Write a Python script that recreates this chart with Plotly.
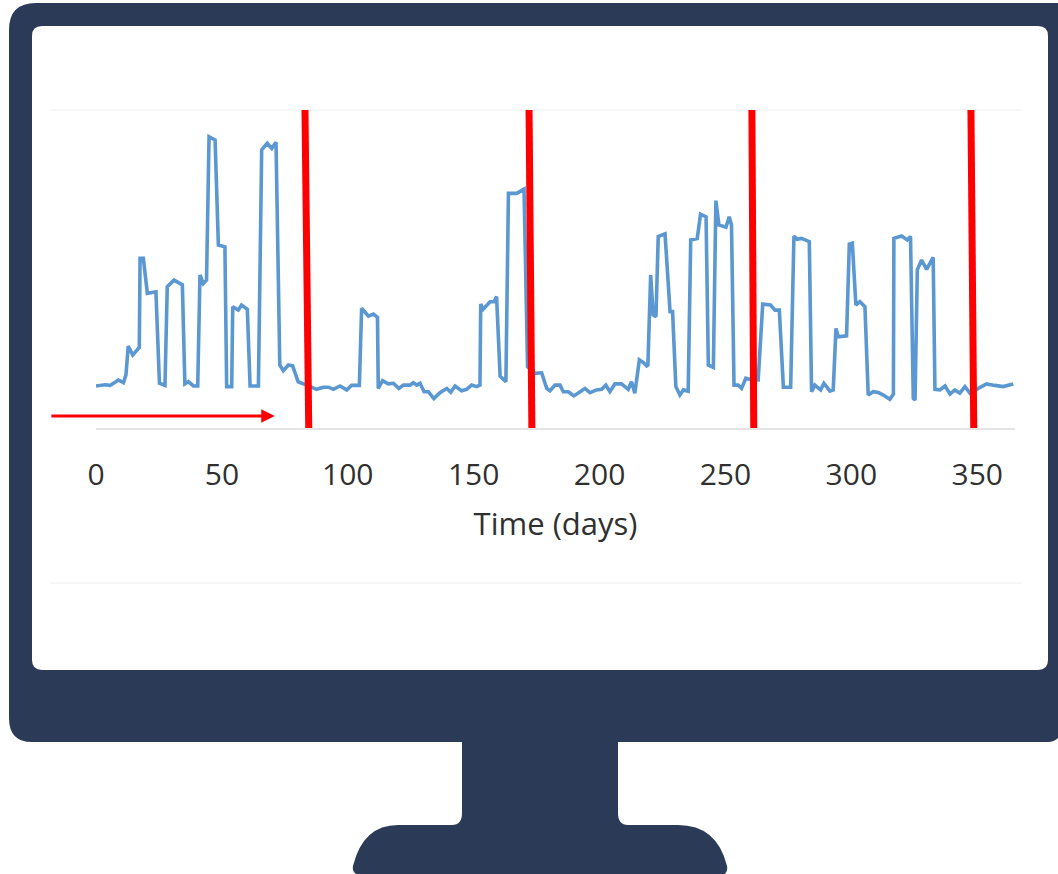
import plotly.graph_objects as go

W, H = 1058, 874

# Series
days = [0, 1.6, 3.6, 5.6, 6.9, 8.9, 10.9, 11.9, 12.8, 14.6, 17.2, 17.5, 18.8, 20.4, 23.8, 25.2, 27.4, 28.3, 31, 34.3,
        35.3, 36.7, 38.7, 40.4, 41.3, 42.6, 43.9, 44.9, 47.3, 48.6, 51.2, 51.9, 53.9, 54.3, 56.5, 57.8, 60.1, 61.2,
        64.5, 65.8, 68, 69.8, 71.5, 73, 74.4, 76.4, 78.1, 80.3, 83.7, 87.6,
        90.3, 92.3, 94.3, 96.9, 99.6, 101.5, 104.6, 105.5, 108.2, 110.2, 111.8, 112.1, 113.8, 116.1, 118.1, 120.3,
        122.1, 124.7, 126, 127.4, 128.7, 130.3, 132, 134.2, 136.6, 139.3, 140.9, 142.6, 145.2, 147.2, 149.2, 151.2,
        152.5, 152.8, 153.8, 156.5, 158.1, 159.1, 160.5, 162.8, 163.8, 167.1, 170, 171.4, 174.3, 177, 179, 180.3,
        182.3, 184.3, 185.6, 187.6, 189.8, 192.2, 194.2, 196.2, 198.8, 200.8, 202.5, 204.1, 206.1, 208.7, 211.4,
        212.7, 214, 215.8, 217.4, 218.7, 219.2,
        220.3, 221.3, 222.4, 223.3, 226, 228, 229, 230.3, 231.9, 233.3, 235.2, 236.2, 238.8, 240.1, 242.3, 243.2,
        245.2, 246.2, 247.4, 250.2, 251.5, 252.4, 253.4, 255.1, 256.4, 258.1, 260.4, 263, 264.8, 267.9, 269.7, 271.4,
        273, 275.9, 277.2, 278.5, 280.2, 281.6, 283.3, 284.2, 285.5, 287.8, 289.1, 291.5, 292.8, 293.9, 294.8, 298.1,
        299.2, 300.4, 301.8, 303.4, 305.4, 306.7, 308.7, 310.7, 312.7, 315.3, 316.7, 316.9, 320, 322.2, 323.5, 324.6,
        325.3, 326.2, 327.9, 329.9, 332.5, 333.2, 335.2, 337.2, 339.2, 341.1, 343.1, 345.1, 347.1, 350.4, 353.7, 357,
        360.3, 364.3]
activity = [14, 14.2, 14.4, 14.2, 14.9, 16, 15.1, 17.7, 27.3, 24.3, 26.9, 56.6, 56.6, 44.9, 45.4, 14.9, 14.2, 47.1, 49.3, 47.7,
            14.7, 15.4, 14, 14, 51, 48.2, 49.3, 97.1, 96, 61, 60.4, 13.8, 13.8, 40.4, 39.3, 41, 39.6, 14,
            14, 92.7, 94.9, 93.2, 95.2, 21, 19.1, 21, 20.7, 15.4, 14.3, 12.9,
            13.6, 13.6, 12.9, 14, 12.7, 14.2, 14.2, 39.9, 37.3, 38, 36.9, 13.2, 15.8, 14.7, 14.9, 13.2,
            14.3, 14.3, 15.1, 14.3, 14.9, 12.1, 12.1, 9.8, 11.8, 13.2, 11.9, 14, 12.4, 12.9, 14.3, 13.8,
            14.3, 41.3, 39.6, 42.1, 42.1, 43.8, 17.3, 15.4, 78.2, 78.2, 79.6, 20.4, 18.2, 18.4, 13.2, 12.4,
            14.3, 14.3, 12.1, 12.1, 10.7, 12.1, 13.2, 11.8, 12.7, 12.9, 14.3, 12.1, 14.7, 14.7, 12.9,
            15.4, 11.6, 22.7, 21.8, 20.7, 21,
            51, 37.7, 37.1, 63.8, 64.7, 38.8, 38.8, 13.8, 11, 12.7, 12.3, 62.7, 63.2, 71.3, 70.4, 21,
            20.2, 75.8, 67.7, 66.9, 70.4, 67.7, 14.3, 14.3, 13.2, 16.6, 16, 16, 41.3, 41, 39.3, 39.3,
            13.6, 13.6, 64, 62.9, 63.2, 62.7, 62.1, 12.1, 14.3, 12.7, 14.9, 12.3, 12.7, 33.2, 30.4, 30.7,
            61.3, 61.6, 41, 42.1, 40.4, 11, 12.1, 11.8, 11, 9.6, 11.3, 63.2, 64, 62.7, 63.8, 9.9,
            9.3, 52.7, 56, 52.9, 56.9, 12.9, 12.7, 14, 11.3, 12.7, 11.6, 13.8, 11.6, 13.2, 14.7, 14.2,
            13.8, 14.7]

# Red period markers, each (day at top, day at bottom)
marker_top_days = [83.0, 172.0, 260.5, 347.5]
marker_bottom_days = [84.6, 173.2, 261.3, 348.7]
marker_y = [106, -7.5]

tick_values = [0, 50, 100, 150, 200, 250, 300, 350]
tick_labels = ["0", "50", "100", "150", "200", "250", "300", "350"]
x_title = "Time (days)"
arrow_days = [-18.3, 71]
arrow_level = 4

NAVY = "#2b3a57"
BLUE = "#5b98d2"
RED = "#fe0000"
TEXT = "#303030"
FONT = "Open Sans"


def pt(x, y):
    return f"{x / W:.5f} {1 - y / H:.5f}"


def path(*cmds):
    parts = []
    for c in cmds:
        letter, coords = c[0], c[1:]
        parts.append(letter + " " + " ".join(pt(*xy) for xy in coords))
    return " ".join(parts) + " Z"


monitor = path(
    ("M", (9, 30)), ("Q", (9, 3), (36, 3)), ("L", (1058, 3)), ("L", (1058, 738)),
    ("Q", (1054, 742), (1048, 742)), ("L", (618, 742)), ("L", (618, 813)), ("Q", (618, 825), (628, 825)),
    ("L", (678, 825)), ("Q", (717, 825), (727, 866)), ("Q", (728, 871), (725, 874)), ("L", (356, 874)),
    ("Q", (352, 871), (353, 866)), ("Q", (363, 825), (398, 825)), ("L", (452, 825)), ("Q", (462, 825), (462, 813)),
    ("L", (462, 742)), ("L", (32, 742)), ("Q", (9, 742), (9, 718)),
)
screen = path(
    ("M", (32, 36)), ("Q", (32, 26), (42, 26)), ("L", (1038, 26)), ("Q", (1048, 26), (1048, 36)),
    ("L", (1048, 660)), ("Q", (1048, 670), (1038, 670)), ("L", (42, 670)), ("Q", (32, 670), (32, 660)),
)

shapes = [
    dict(type="path", xref="paper", yref="paper", path=monitor, fillcolor=NAVY, line=dict(width=0), layer="below"),
    dict(type="path", xref="paper", yref="paper", path=screen, fillcolor="#ffffff", line=dict(width=0), layer="below"),
]
for py in (110, 583):
    shapes.append(dict(type="line", xref="paper", yref="paper", x0=50 / W, x1=1022 / W,
                       y0=1 - py / H, y1=1 - py / H, line=dict(color="#eeeeee", width=1), layer="below"))

fig = go.Figure()
fig.add_trace(go.Scatter(x=days, y=activity, mode="lines", line=dict(color=BLUE, width=3.6), cliponaxis=False,
                         showlegend=False, hoverinfo="skip"))
for top, bottom in zip(marker_top_days, marker_bottom_days):
    fig.add_trace(go.Scatter(x=[top, bottom], y=marker_y, mode="lines", line=dict(color=RED, width=7),
                             cliponaxis=False, showlegend=False, hoverinfo="skip"))

fig.add_annotation(x=arrow_days[1], y=arrow_level, ax=arrow_days[0], ay=arrow_level, xref="x", yref="y",
                   axref="x", ayref="y", text="", showarrow=True, arrowhead=2, arrowsize=0.9, arrowwidth=3,
                   arrowcolor=RED, standoff=0)

fig.update_layout(
    width=W, height=H, autosize=False,
    margin=dict(l=0, r=0, t=0, b=0, pad=0),
    paper_bgcolor="#ffffff", plot_bgcolor="rgba(0,0,0,0)",
    showlegend=False, shapes=shapes,
    font=dict(family=FONT, color=TEXT),
    xaxis=dict(domain=[96 / W, 1015 / W], range=[0, 365], tickvals=tick_values, ticktext=tick_labels,
               tickfont=dict(size=30, family=FONT, color=TEXT), ticks="outside", ticklen=19,
               tickcolor="rgba(0,0,0,0)", showgrid=False, zeroline=False, showline=True,
               linecolor="#e4e4e4", linewidth=2, automargin=False, tickangle=0,
               title=dict(text=x_title, font=dict(size=31, family=FONT, color=TEXT), standoff=20)),
    yaxis=dict(domain=[1 - 428 / H, 1 - 110 / H], range=[0, 106], visible=False, automargin=False),
)
fig.write_html("out.html", config=dict(displayModeBar=False),
               post_script="document.body.style.margin='0';document.documentElement.style.overflow='hidden';")
